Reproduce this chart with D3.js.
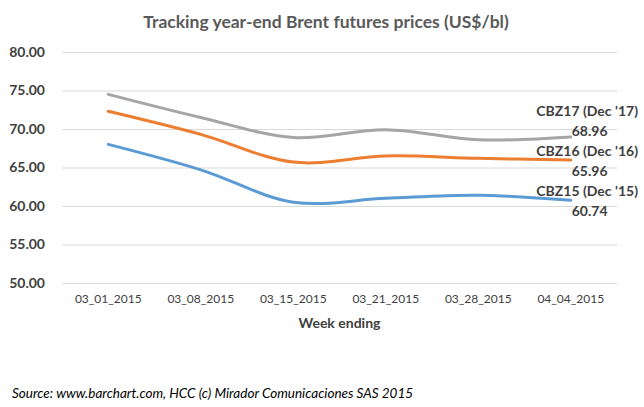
<!DOCTYPE html>
<html><head><meta charset="utf-8">
<script src="https://cdn.jsdelivr.net/npm/d3@7"></script>
<style>body{margin:0;background:#fff;} text{font-family:Lato, "Open Sans", sans-serif;}</style>
</head><body><svg id="c" width="644" height="407"></svg>
<script>
const categories = ["03_01_2015","03_08_2015","03_15_2015","03_21_2015","03_28_2015","04_04_2015"];
const cbz17 = [74.5, 71.5, 68.9, 69.9, 68.6, 68.96];
const cbz16 = [72.3, 69.3, 65.7, 66.5, 66.2, 65.96];
const cbz15 = [68.0, 64.7, 60.5, 61.0, 61.4, 60.74];
const seriesNames = ["CBZ17 (Dec '17)","CBZ16 (Dec '16)","CBZ15 (Dec '15)"];
const yTicks = [50,55,60,65,70,75,80];

const series = [
  {name: seriesNames[0], values: cbz17, color: "#A5A5A5", shift: -17},
  {name: seriesNames[1], values: cbz16, color: "#ED7D31", shift: 0},
  {name: seriesNames[2], values: cbz15, color: "#5B9BD5", shift: 0}
];
const svg = d3.select("#c");
const L = 62, R = 617, T = 52, B = 283;
const x = d3.scaleBand().domain(categories).range([L, R]);
const y = d3.scaleLinear().domain([50, 80]).range([B, T]);

svg.append("text").attr("x", 326).attr("y", 28).attr("text-anchor","middle")
  .attr("font-size", 17.5).attr("font-weight","bold").attr("fill","#595959")
  .text("Tracking year-end Brent futures prices (US$/bl)");

const yAxis = svg.append("g").attr("transform", `translate(${L},0)`)
  .call(d3.axisLeft(y).tickValues(yTicks).tickFormat(d3.format(".2f")).tickSize(-(R-L)).tickPadding(17));
yAxis.select(".domain").remove();
yAxis.selectAll("line").attr("stroke","#D9D9D9");
yAxis.selectAll("text").attr("font-size",14).attr("font-weight","bold").attr("fill","#404040");

const xAxis = svg.append("g").attr("transform", `translate(0,${B})`)
  .call(d3.axisBottom(x).tickSize(0).tickPadding(11));
xAxis.select(".domain").remove();
xAxis.selectAll("text").attr("font-size",12).attr("fill","#404040");

svg.append("text").attr("x", (L+R)/2).attr("y", 328).attr("text-anchor","middle")
  .attr("font-size",14).attr("font-weight","bold").attr("fill","#404040").text("Week ending");

const line = d3.line().x((d,i)=>x(categories[i]) + x.bandwidth()/2).y(d=>y(d))
  .curve(d3.curveCatmullRom.alpha(0.5));
series.forEach(s => {
  svg.append("path").attr("d", line(s.values)).attr("fill","none")
    .attr("stroke", s.color).attr("stroke-width", 3).attr("stroke-linecap","round");
  const last = s.values[s.values.length-1];
  const lx = x(categories[categories.length-1]) + x.bandwidth()/2;
  const ly = y(last) + s.shift;
  svg.append("text").attr("x", 638).attr("y", ly - 4).attr("text-anchor","end")
    .attr("font-size",14).attr("font-weight","bold").attr("fill","#404040").text(s.name);
  svg.append("text").attr("x", lx + 1).attr("y", ly + 16).attr("text-anchor","start")
    .attr("font-size",14).attr("font-weight","bold").attr("fill","#404040").text(last.toFixed(2));
});

svg.append("text").attr("x", 12).attr("y", 398).attr("font-size",13.5).attr("font-style","italic")
  .attr("fill","#000").text("Source: www.barchart.com, HCC (c) Mirador Comunicaciones SAS 2015");
</script></body></html>
